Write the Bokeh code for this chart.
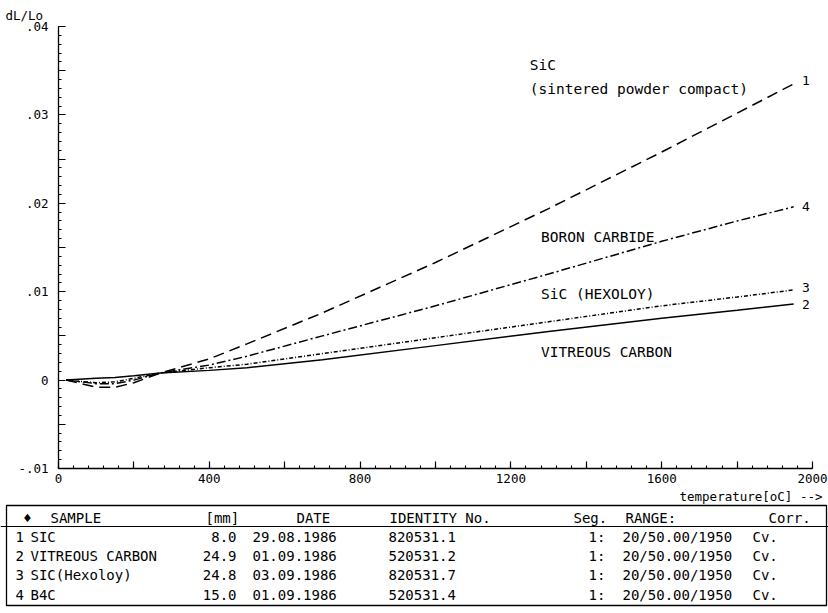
from bokeh.plotting import figure
from bokeh.models import Range1d, FixedTicker, CustomJSTickFormatter, Span, ColumnDataSource
from bokeh.core.properties import value
from bokeh.embed import file_html
from bokeh.resources import INLINE

# ---------------- data ----------------
TEMP = [20, 100, 150, 200, 270, 400, 500, 700, 1000, 1300, 1600, 1800, 1950]
SIC_SINTERED = [0.0, -0.0008, -0.0008, -0.0003, 0.0008, 0.0024, 0.0041, 0.0076, 0.0133, 0.0194, 0.0258, 0.0302, 0.0335]
VITREOUS_C = [0.0, 0.0002, 0.0003, 0.0005, 0.0008, 0.0011, 0.0014, 0.0023, 0.0039, 0.0055, 0.0070, 0.0079, 0.0086]
SIC_HEXOLOY = [0.0, -0.0003, -0.0002, 0.0002, 0.0008, 0.0014, 0.0018, 0.0030, 0.0048, 0.0066, 0.0084, 0.0094, 0.0102]
BORON_CARBIDE = [0.0, -0.0004, -0.0004, 0.0000, 0.0008, 0.0017, 0.0027, 0.0050, 0.0084, 0.0120, 0.0157, 0.0180, 0.0196]

CURVE_NO = ["1", "2", "3", "4"]

HEADERS = ["\u2666", "SAMPLE", "[mm]", "DATE", "IDENTITY No.", "Seg.", "RANGE:", "Corr."]
ROW_NO = ["1", "2", "3", "4"]
SAMPLES = ["SIC", "VITREOUS CARBON", "SIC(Hexoloy)", "B4C"]
LENGTH_MM = ["8.0", "24.9", "24.8", "15.0"]
DATES = ["29.08.1986", "01.09.1986", "03.09.1986", "01.09.1986"]
IDENTITY = ["820531.1", "520531.2", "820531.7", "520531.4"]
SEGMENT = ["1:", "1:", "1:", "1:"]
RANGES = ["20/50.00/1950", "20/50.00/1950", "20/50.00/1950", "20/50.00/1950"]
CORR = ["Cv.", "Cv.", "Cv.", "Cv."]

FONT = "DejaVu Sans Mono"
W = 828
MAIN_H = 490

# ---------------- main plot ----------------
p = figure(width=W, height=MAIN_H, x_range=Range1d(0, 2000), y_range=Range1d(-0.01, 0.04),
           output_backend="svg", toolbar_location=None, title="dL/Lo",
           min_border_left=58, min_border_right=16, min_border_top=26, min_border_bottom=MAIN_H - 468)
p.grid.visible = False
p.outline_line_color = None
p.title.align = "left"
p.title.offset = -53
p.title.standoff = 8
p.title.text_font = FONT
p.title.text_font_size = "12.5px"
p.title.text_font_style = "normal"
p.title.text_color = "black"

xa = p.xaxis[0]
xa.ticker = FixedTicker(ticks=list(range(0, 2001, 200)), minor_ticks=list(range(0, 2001, 40)))
xa.formatter = CustomJSTickFormatter(code="""
const v = Math.round(tick);
return (v % 400 === 0) ? String(v) : "";
""")
ya = p.yaxis[0]
ya.ticker = FixedTicker(ticks=[round(-0.01 + 0.005 * i, 4) for i in range(11)],
                        minor_ticks=[round(-0.01 + 0.001 * i, 4) for i in range(51)])
ya.formatter = CustomJSTickFormatter(code="""
const v = Math.round(tick * 1000);
if (v % 10 !== 0) return "";
if (v === 0) return "0";
const a = (Math.abs(v) / 1000).toFixed(2).replace(/^0/, "");
return (v < 0 ? "-" : "") + a;
""")
for ax in (xa, ya):
    ax.axis_line_width = 1.3
    ax.axis_line_color = "black"
    ax.major_tick_in = 7
    ax.major_tick_out = 0
    ax.minor_tick_in = 3
    ax.minor_tick_out = 0
    ax.major_tick_line_color = "black"
    ax.minor_tick_line_color = "black"
    ax.major_tick_line_width = 1.2
    ax.minor_tick_line_width = 1.1
    ax.major_label_text_font = FONT
    ax.major_label_text_font_size = "12.5px"
    ax.major_label_text_color = "black"
xa.major_label_standoff = 5
ya.major_label_standoff = 10

lw = 1.5
p.line(TEMP, SIC_SINTERED, line_color="black", line_width=lw, line_dash="11 6")
p.line(TEMP, VITREOUS_C, line_color="black", line_width=lw)
p.line(TEMP, SIC_HEXOLOY, line_color="black", line_width=lw, line_dash="4 2 1 2")
p.line(TEMP, BORON_CARBIDE, line_color="black", line_width=lw, line_dash="9 3 2 3")

# curve numbers at the curve ends
ends = [SIC_SINTERED[-1], VITREOUS_C[-1], SIC_HEXOLOY[-1], BORON_CARBIDE[-1]]
p.text(x=[TEMP[-1] + 22] * 4, y=[ends[0] + 0.0004, ends[1], ends[2] + 0.0003, ends[3]],
       text=CURVE_NO, text_font=value(FONT), text_font_size="13px",
       text_baseline="middle", text_align="left", text_color="black")

# curve annotations
ann_x = [1250, 1250, 1280, 1280, 1280]
ann_y = [0.0357, 0.0329, 0.0162, 0.0097, 0.0032]
ann_t = ["SiC", "(sintered powder compact)", "BORON CARBIDE", "SiC (HEXOLOY)", "VITREOUS CARBON"]
p.text(x=ann_x, y=ann_y, text=ann_t, text_font=value(FONT), text_font_size="14.5px",
       text_baseline="middle", text_align="left", text_color="black")

# ---------------- table ----------------
TAB_H = 613 - MAIN_H
ROW_STEP = 19.25
HEAD_PAGE_Y = 517.0


def row_of(page_y):
    return (page_y - HEAD_PAGE_Y) / ROW_STEP


t = figure(width=W, height=TAB_H, x_range=Range1d(0, W),
           y_range=Range1d(row_of(613), row_of(MAIN_H)),
           output_backend="svg", toolbar_location=None, min_border=0)
t.axis.visible = False
t.grid.visible = False
t.outline_line_color = None

t.quad(left=6, right=826, top=row_of(505), bottom=row_of(605),
       fill_color=None, line_color="black", line_width=1.3)
t.add_layout(Span(location=row_of(526), dimension="width", line_color="black", line_width=1.2))

t.text(x=[822], y=[row_of(496)], text=["temperature[oC] -->"], text_font=value(FONT),
       text_font_size="12.5px", text_baseline="middle", text_align="right", text_color="black")

rows = [1, 2, 3, 4]
cols = [
    (ROW_NO, 15, "left"),
    (SAMPLES, 30, "left"),
    (LENGTH_MM, 236, "right"),
    (DATES, 252, "left"),
    (IDENTITY, 388, "left"),
    (SEGMENT, 588, "left"),
    (RANGES, 622, "left"),
    (CORR, 752, "left"),
]
for vals, xpos, align in cols:
    src = ColumnDataSource(dict(x=[xpos] * len(vals), y=rows, text=vals))
    t.text(x="x", y="y", text="text", source=src, text_font=value(FONT), text_font_size="14px",
           text_baseline="middle", text_align=align, text_color="black")

head_x = [27, 50, 205, 296, 389, 573, 625, 768]
head_align = ["center", "left", "left", "left", "left", "left", "left", "left"]
hsrc = ColumnDataSource(dict(x=head_x, y=[0] * len(HEADERS), text=HEADERS, align=head_align))
t.text(x="x", y="y", text="text", source=hsrc, text_font=value(FONT), text_font_size="14px",
       text_baseline="middle", text_align="align", text_color="black")

open("out.html", "w").write(file_html([p, t], INLINE))
